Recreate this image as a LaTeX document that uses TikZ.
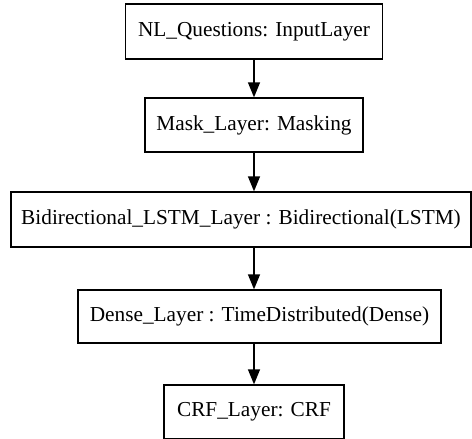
\documentclass[tikz,border=0pt]{standalone}
\usepackage{fontspec}
\setmainfont{Liberation Serif}
\usetikzlibrary{arrows.meta}

\tikzset{
  layerbox/.style={rectangle,draw,line width=1.3pt,inner sep=0pt,minimum height=54pt,
    font=\fontsize{21.3}{25}\selectfont},
  flow/.style={-{Triangle[length=15pt,width=12pt]},line width=1.3pt}
}

\begin{document}
\begin{tikzpicture}[x=1pt,y=-1pt]
        \useasboundingbox (0,0) rectangle (472,439);

        \draw (254,31.5) node (input) [layerbox,minimum width=257pt,minimum height=55pt] {NL\_Questions: InputLayer};
        \draw (254,125) node (mask) [layerbox,minimum width=218pt] {Mask\_Layer: Masking};
        \draw (241,219.5) node (bilstm) [layerbox,minimum width=460pt,minimum height=55pt] {Bidirectional\_LSTM\_Layer : Bidirectional(LSTM)};
        \draw (259.5,316.5) node (dense) [layerbox,minimum width=363pt,minimum height=53pt] {Dense\_Layer : TimeDistributed(Dense)};
        \draw (254,412) node (crf) [layerbox,minimum width=180pt] {CRF\_Layer: CRF};

        \draw [flow] (input.south) to (mask.north);
        \draw [flow] (mask.south) to (mask.south |- bilstm.north);
        \draw [flow] (bilstm.south -| input.south) to (input.south |- dense.north);
        \draw [flow] (dense.south -| input.south) to (crf.north);
    \end{tikzpicture}
\end{document}
